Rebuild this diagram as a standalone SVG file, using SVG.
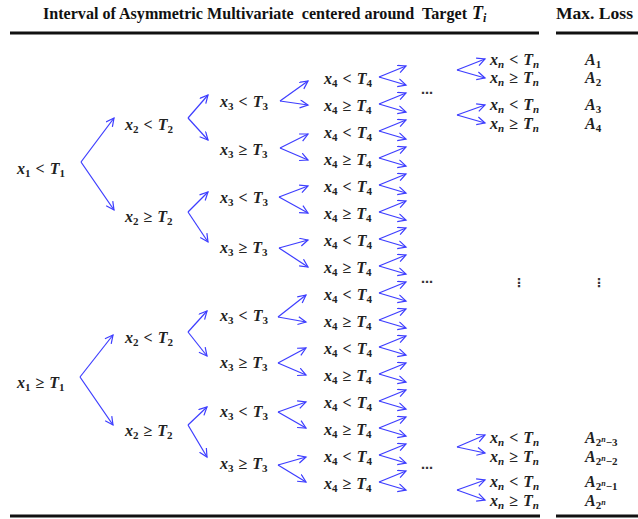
<svg xmlns="http://www.w3.org/2000/svg" width="638" height="519" viewBox="0 0 638 519">
<defs>
<style>
.t{font-family:"Liberation Serif",serif;font-size:16px;font-weight:bold;fill:#222}
.i{font-style:italic}
.s{font-size:11px}
.p{font-size:8px}
.h{font-family:"Liberation Serif",serif;font-size:16px;font-weight:bold;fill:#111}
.rule{stroke:#111;stroke-width:3}
.c line{stroke:#3d3dff;stroke-width:1.2;fill:none;marker-end:url(#ah)}
.d{font-family:"DejaVu Sans",sans-serif;font-size:12px;font-weight:bold;fill:#333}
</style>
<marker id="ah" markerUnits="userSpaceOnUse" markerWidth="12" markerHeight="12" refX="8.5" refY="4.5" orient="auto" viewBox="0 0 12 12">
<path d="M0.5,0.5 L8.5,4.5 L0.5,8.5" fill="none" stroke="#3d3dff" stroke-width="1.2"/>
</marker>
</defs>

<g id="header">
<text class="h" x="43" y="19" textLength="424" lengthAdjust="spacingAndGlyphs" xml:space="preserve">Interval of Asymmetric Multivariate  centered around  Target</text>
<text class="h" x="472" y="19"><tspan class="i" font-size="18">T</tspan><tspan class="i" font-size="12" dy="3">i</tspan></text>
<text class="h" x="556" y="19" textLength="77" lengthAdjust="spacingAndGlyphs">Max. Loss</text>
<line class="rule" x1="10" y1="33" x2="539" y2="33"/>
<line class="rule" x1="556" y1="33" x2="638" y2="33"/>
<line class="rule" x1="10" y1="516" x2="540" y2="516"/>
<line class="rule" x1="556" y1="516" x2="638" y2="516"/>
</g>

<g id="connectors" class="c">
<line x1="81" y1="162" x2="114" y2="118"/><line x1="81" y1="162" x2="114" y2="210"/>
<line x1="80" y1="377" x2="113" y2="335"/><line x1="80" y1="377" x2="113" y2="425"/>
<line x1="188" y1="118" x2="208" y2="95"/><line x1="188" y1="118" x2="208" y2="140"/>
<line x1="188" y1="212" x2="208" y2="192"/><line x1="188" y1="212" x2="208" y2="242"/>
<line x1="188" y1="332" x2="207" y2="311"/><line x1="188" y1="332" x2="207" y2="356"/>
<line x1="188" y1="425" x2="207" y2="407"/><line x1="188" y1="425" x2="207" y2="457"/>
<line x1="280" y1="101" x2="308" y2="81"/><line x1="280" y1="101" x2="308" y2="105"/>
<line x1="280" y1="148" x2="308" y2="134"/><line x1="280" y1="148" x2="308" y2="160"/>
<line x1="279" y1="197" x2="308" y2="186"/><line x1="279" y1="197" x2="308" y2="213"/>
<line x1="279" y1="248" x2="308" y2="240"/><line x1="279" y1="248" x2="308" y2="267"/>
<line x1="278" y1="317" x2="306" y2="295"/><line x1="278" y1="317" x2="306" y2="322"/>
<line x1="278" y1="363" x2="306" y2="348"/><line x1="278" y1="363" x2="306" y2="375"/>
<line x1="278" y1="412" x2="306" y2="402"/><line x1="278" y1="412" x2="306" y2="428"/>
<line x1="278" y1="465" x2="306" y2="457"/><line x1="278" y1="465" x2="306" y2="482"/>
<line x1="379" y1="77" x2="406" y2="66"/><line x1="379" y1="77" x2="406" y2="85"/>
<line x1="379" y1="104" x2="406" y2="93"/><line x1="379" y1="104" x2="406" y2="112"/>
<line x1="379" y1="131" x2="406" y2="120"/><line x1="379" y1="131" x2="406" y2="139"/>
<line x1="379" y1="158" x2="406" y2="147"/><line x1="379" y1="158" x2="406" y2="166"/>
<line x1="379" y1="185" x2="406" y2="174"/><line x1="379" y1="185" x2="406" y2="193"/>
<line x1="379" y1="212" x2="406" y2="201"/><line x1="379" y1="212" x2="406" y2="220"/>
<line x1="379" y1="239" x2="406" y2="228"/><line x1="379" y1="239" x2="406" y2="247"/>
<line x1="379" y1="266" x2="406" y2="255"/><line x1="379" y1="266" x2="406" y2="274"/>
<line x1="379" y1="293" x2="406" y2="282"/><line x1="379" y1="293" x2="406" y2="301"/>
<line x1="379" y1="320" x2="406" y2="309"/><line x1="379" y1="320" x2="406" y2="328"/>
<line x1="379" y1="347" x2="406" y2="336"/><line x1="379" y1="347" x2="406" y2="355"/>
<line x1="379" y1="374" x2="406" y2="363"/><line x1="379" y1="374" x2="406" y2="382"/>
<line x1="379" y1="401" x2="406" y2="390"/><line x1="379" y1="401" x2="406" y2="409"/>
<line x1="379" y1="428" x2="406" y2="417"/><line x1="379" y1="428" x2="406" y2="436"/>
<line x1="379" y1="455" x2="406" y2="444"/><line x1="379" y1="455" x2="406" y2="463"/>
<line x1="379" y1="482" x2="406" y2="471"/><line x1="379" y1="482" x2="406" y2="490"/>
<line x1="457" y1="70" x2="485" y2="59"/><line x1="457" y1="70" x2="485" y2="78"/>
<line x1="457" y1="115" x2="485" y2="105"/><line x1="457" y1="115" x2="485" y2="123"/>
<line x1="457" y1="447" x2="485" y2="435"/><line x1="457" y1="447" x2="485" y2="453"/>
<line x1="457" y1="490" x2="485" y2="480"/><line x1="457" y1="490" x2="485" y2="500"/>
</g>

<g id="n1a"><text class="t" x="17" y="174"><tspan class="i">x</tspan><tspan class="s" dy="3">1</tspan><tspan dx="5" dy="-3">&lt;</tspan><tspan class="i" dx="5">T</tspan><tspan class="s" dy="3">1</tspan></text></g>
<g id="n1b"><text class="t" x="17" y="388"><tspan class="i">x</tspan><tspan class="s" dy="3">1</tspan><tspan dx="5" dy="-3">≥</tspan><tspan class="i" dx="5">T</tspan><tspan class="s" dy="3">1</tspan></text></g>

<g id="n2a"><text class="t" x="125" y="130"><tspan class="i">x</tspan><tspan class="s" dy="3">2</tspan><tspan dx="5" dy="-3">&lt;</tspan><tspan class="i" dx="5">T</tspan><tspan class="s" dy="3">2</tspan></text></g>
<g id="n2b"><text class="t" x="125" y="222"><tspan class="i">x</tspan><tspan class="s" dy="3">2</tspan><tspan dx="5" dy="-3">≥</tspan><tspan class="i" dx="5">T</tspan><tspan class="s" dy="3">2</tspan></text></g>
<g id="n2c"><text class="t" x="125" y="343"><tspan class="i">x</tspan><tspan class="s" dy="3">2</tspan><tspan dx="5" dy="-3">&lt;</tspan><tspan class="i" dx="5">T</tspan><tspan class="s" dy="3">2</tspan></text></g>
<g id="n2d"><text class="t" x="125" y="436"><tspan class="i">x</tspan><tspan class="s" dy="3">2</tspan><tspan dx="5" dy="-3">≥</tspan><tspan class="i" dx="5">T</tspan><tspan class="s" dy="3">2</tspan></text></g>

<g id="n3a"><text class="t" x="220" y="107"><tspan class="i">x</tspan><tspan class="s" dy="3">3</tspan><tspan dx="5" dy="-3">&lt;</tspan><tspan class="i" dx="5">T</tspan><tspan class="s" dy="3">3</tspan></text></g>
<g id="n3b"><text class="t" x="220" y="155"><tspan class="i">x</tspan><tspan class="s" dy="3">3</tspan><tspan dx="5" dy="-3">≥</tspan><tspan class="i" dx="5">T</tspan><tspan class="s" dy="3">3</tspan></text></g>
<g id="n3c"><text class="t" x="220" y="203"><tspan class="i">x</tspan><tspan class="s" dy="3">3</tspan><tspan dx="5" dy="-3">&lt;</tspan><tspan class="i" dx="5">T</tspan><tspan class="s" dy="3">3</tspan></text></g>
<g id="n3d"><text class="t" x="220" y="253"><tspan class="i">x</tspan><tspan class="s" dy="3">3</tspan><tspan dx="5" dy="-3">≥</tspan><tspan class="i" dx="5">T</tspan><tspan class="s" dy="3">3</tspan></text></g>
<g id="n3e"><text class="t" x="220" y="321"><tspan class="i">x</tspan><tspan class="s" dy="3">3</tspan><tspan dx="5" dy="-3">&lt;</tspan><tspan class="i" dx="5">T</tspan><tspan class="s" dy="3">3</tspan></text></g>
<g id="n3f"><text class="t" x="220" y="368"><tspan class="i">x</tspan><tspan class="s" dy="3">3</tspan><tspan dx="5" dy="-3">≥</tspan><tspan class="i" dx="5">T</tspan><tspan class="s" dy="3">3</tspan></text></g>
<g id="n3g"><text class="t" x="220" y="417"><tspan class="i">x</tspan><tspan class="s" dy="3">3</tspan><tspan dx="5" dy="-3">&lt;</tspan><tspan class="i" dx="5">T</tspan><tspan class="s" dy="3">3</tspan></text></g>
<g id="n3h"><text class="t" x="220" y="469"><tspan class="i">x</tspan><tspan class="s" dy="3">3</tspan><tspan dx="5" dy="-3">≥</tspan><tspan class="i" dx="5">T</tspan><tspan class="s" dy="3">3</tspan></text></g>

<g id="n4-1"><text class="t" x="324" y="84"><tspan class="i">x</tspan><tspan class="s" dy="3">4</tspan><tspan dx="5" dy="-3">&lt;</tspan><tspan class="i" dx="5">T</tspan><tspan class="s" dy="3">4</tspan></text></g>
<g id="n4-2"><text class="t" x="324" y="111"><tspan class="i">x</tspan><tspan class="s" dy="3">4</tspan><tspan dx="5" dy="-3">≥</tspan><tspan class="i" dx="5">T</tspan><tspan class="s" dy="3">4</tspan></text></g>
<g id="n4-3"><text class="t" x="324" y="138"><tspan class="i">x</tspan><tspan class="s" dy="3">4</tspan><tspan dx="5" dy="-3">&lt;</tspan><tspan class="i" dx="5">T</tspan><tspan class="s" dy="3">4</tspan></text></g>
<g id="n4-4"><text class="t" x="324" y="165"><tspan class="i">x</tspan><tspan class="s" dy="3">4</tspan><tspan dx="5" dy="-3">≥</tspan><tspan class="i" dx="5">T</tspan><tspan class="s" dy="3">4</tspan></text></g>
<g id="n4-5"><text class="t" x="324" y="192"><tspan class="i">x</tspan><tspan class="s" dy="3">4</tspan><tspan dx="5" dy="-3">&lt;</tspan><tspan class="i" dx="5">T</tspan><tspan class="s" dy="3">4</tspan></text></g>
<g id="n4-6"><text class="t" x="324" y="219"><tspan class="i">x</tspan><tspan class="s" dy="3">4</tspan><tspan dx="5" dy="-3">≥</tspan><tspan class="i" dx="5">T</tspan><tspan class="s" dy="3">4</tspan></text></g>
<g id="n4-7"><text class="t" x="324" y="246"><tspan class="i">x</tspan><tspan class="s" dy="3">4</tspan><tspan dx="5" dy="-3">&lt;</tspan><tspan class="i" dx="5">T</tspan><tspan class="s" dy="3">4</tspan></text></g>
<g id="n4-8"><text class="t" x="324" y="273"><tspan class="i">x</tspan><tspan class="s" dy="3">4</tspan><tspan dx="5" dy="-3">≥</tspan><tspan class="i" dx="5">T</tspan><tspan class="s" dy="3">4</tspan></text></g>
<g id="n4-9"><text class="t" x="324" y="300"><tspan class="i">x</tspan><tspan class="s" dy="3">4</tspan><tspan dx="5" dy="-3">&lt;</tspan><tspan class="i" dx="5">T</tspan><tspan class="s" dy="3">4</tspan></text></g>
<g id="n4-10"><text class="t" x="324" y="327"><tspan class="i">x</tspan><tspan class="s" dy="3">4</tspan><tspan dx="5" dy="-3">≥</tspan><tspan class="i" dx="5">T</tspan><tspan class="s" dy="3">4</tspan></text></g>
<g id="n4-11"><text class="t" x="324" y="354"><tspan class="i">x</tspan><tspan class="s" dy="3">4</tspan><tspan dx="5" dy="-3">&lt;</tspan><tspan class="i" dx="5">T</tspan><tspan class="s" dy="3">4</tspan></text></g>
<g id="n4-12"><text class="t" x="324" y="381"><tspan class="i">x</tspan><tspan class="s" dy="3">4</tspan><tspan dx="5" dy="-3">≥</tspan><tspan class="i" dx="5">T</tspan><tspan class="s" dy="3">4</tspan></text></g>
<g id="n4-13"><text class="t" x="324" y="408"><tspan class="i">x</tspan><tspan class="s" dy="3">4</tspan><tspan dx="5" dy="-3">&lt;</tspan><tspan class="i" dx="5">T</tspan><tspan class="s" dy="3">4</tspan></text></g>
<g id="n4-14"><text class="t" x="324" y="435"><tspan class="i">x</tspan><tspan class="s" dy="3">4</tspan><tspan dx="5" dy="-3">≥</tspan><tspan class="i" dx="5">T</tspan><tspan class="s" dy="3">4</tspan></text></g>
<g id="n4-15"><text class="t" x="324" y="462"><tspan class="i">x</tspan><tspan class="s" dy="3">4</tspan><tspan dx="5" dy="-3">&lt;</tspan><tspan class="i" dx="5">T</tspan><tspan class="s" dy="3">4</tspan></text></g>
<g id="n4-16"><text class="t" x="324" y="489"><tspan class="i">x</tspan><tspan class="s" dy="3">4</tspan><tspan dx="5" dy="-3">≥</tspan><tspan class="i" dx="5">T</tspan><tspan class="s" dy="3">4</tspan></text></g>

<g id="dots">
<text class="d" x="421" y="97">⋯</text>
<text class="d" x="421" y="286">⋯</text>
<text class="d" x="421" y="472">⋯</text>
<text class="d" x="513" y="287">⋮</text>
<text class="d" x="593" y="287">⋮</text>
</g>

<g id="nn1"><text class="t" x="490" y="65"><tspan class="i">x</tspan><tspan class="s i" dy="3">n</tspan><tspan dx="5" dy="-3">&lt;</tspan><tspan class="i" dx="5">T</tspan><tspan class="s i" dy="3">n</tspan></text></g>
<g id="nn2"><text class="t" x="490" y="83"><tspan class="i">x</tspan><tspan class="s i" dy="3">n</tspan><tspan dx="5" dy="-3">≥</tspan><tspan class="i" dx="5">T</tspan><tspan class="s i" dy="3">n</tspan></text></g>
<g id="nn3"><text class="t" x="490" y="110"><tspan class="i">x</tspan><tspan class="s i" dy="3">n</tspan><tspan dx="5" dy="-3">&lt;</tspan><tspan class="i" dx="5">T</tspan><tspan class="s i" dy="3">n</tspan></text></g>
<g id="nn4"><text class="t" x="490" y="129"><tspan class="i">x</tspan><tspan class="s i" dy="3">n</tspan><tspan dx="5" dy="-3">≥</tspan><tspan class="i" dx="5">T</tspan><tspan class="s i" dy="3">n</tspan></text></g>
<g id="nn5"><text class="t" x="490" y="443"><tspan class="i">x</tspan><tspan class="s i" dy="3">n</tspan><tspan dx="5" dy="-3">&lt;</tspan><tspan class="i" dx="5">T</tspan><tspan class="s i" dy="3">n</tspan></text></g>
<g id="nn6"><text class="t" x="490" y="462"><tspan class="i">x</tspan><tspan class="s i" dy="3">n</tspan><tspan dx="5" dy="-3">≥</tspan><tspan class="i" dx="5">T</tspan><tspan class="s i" dy="3">n</tspan></text></g>
<g id="nn7"><text class="t" x="490" y="487"><tspan class="i">x</tspan><tspan class="s i" dy="3">n</tspan><tspan dx="5" dy="-3">&lt;</tspan><tspan class="i" dx="5">T</tspan><tspan class="s i" dy="3">n</tspan></text></g>
<g id="nn8"><text class="t" x="490" y="506"><tspan class="i">x</tspan><tspan class="s i" dy="3">n</tspan><tspan dx="5" dy="-3">≥</tspan><tspan class="i" dx="5">T</tspan><tspan class="s i" dy="3">n</tspan></text></g>

<g id="loss">
<text class="t" x="585" y="65"><tspan class="i">A</tspan><tspan class="s" dy="3">1</tspan></text>
<text class="t" x="585" y="83"><tspan class="i">A</tspan><tspan class="s" dy="3">2</tspan></text>
<text class="t" x="585" y="110"><tspan class="i">A</tspan><tspan class="s" dy="3">3</tspan></text>
<text class="t" x="585" y="129"><tspan class="i">A</tspan><tspan class="s" dy="3">4</tspan></text>
<text class="t" x="585" y="443"><tspan class="i">A</tspan><tspan class="s" dy="3">2</tspan><tspan class="p i" dy="-4">n</tspan><tspan class="s" dy="4">−3</tspan></text>
<text class="t" x="585" y="462"><tspan class="i">A</tspan><tspan class="s" dy="3">2</tspan><tspan class="p i" dy="-4">n</tspan><tspan class="s" dy="4">−2</tspan></text>
<text class="t" x="585" y="487"><tspan class="i">A</tspan><tspan class="s" dy="3">2</tspan><tspan class="p i" dy="-4">n</tspan><tspan class="s" dy="4">−1</tspan></text>
<text class="t" x="585" y="506"><tspan class="i">A</tspan><tspan class="s" dy="3">2</tspan><tspan class="p i" dy="-4">n</tspan></text>
</g>
</svg>
